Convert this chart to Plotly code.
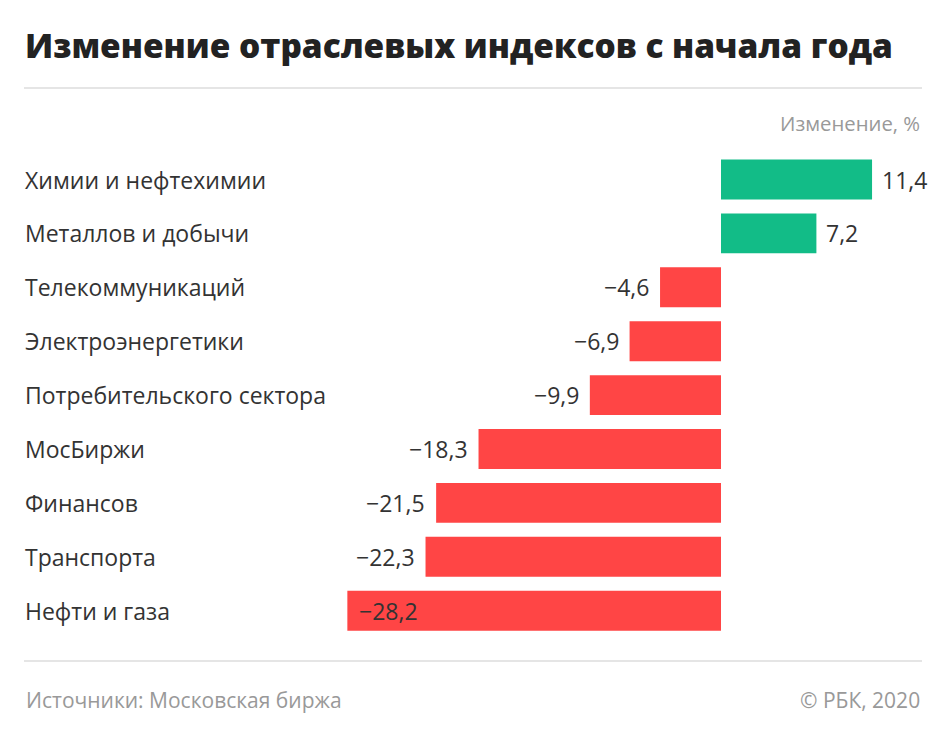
import plotly.graph_objects as go

categories = ["Химии и нефтехимии", "Металлов и добычи", "Телекоммуникаций",
              "Электроэнергетики", "Потребительского сектора", "МосБиржи",
              "Финансов", "Транспорта", "Нефти и газа"]
values = [11.4, 7.2, -4.6, -6.9, -9.9, -18.3, -21.5, -22.3, -28.2]

title = "Изменение отраслевых индексов с начала года"
unit_label = "Изменение, %"
source = "Источники: Московская биржа"
copyright_txt = "© РБК, 2020"

OFF = 8  # page body margin
W, H = 945 - 2 * OFF, 740 - 2 * OFF
GREEN = "#12bc87"
RED = "#ff4545"
DARK = "#333333"
GRAY = "#999999"
FONT = "Open Sans"
TFONT = "Open Sans"
LBL = 23

def fmt(v):
    s = f"{abs(v):.1f}".replace(".", ",")
    return ("\u2212" + s) if v < 0 else s

colors = [GREEN if v >= 0 else RED for v in values]

fig = go.Figure(go.Bar(
    y=categories, x=values, orientation="h",
    marker=dict(color=colors, line=dict(width=0)),
    width=0.74, hoverinfo="skip",
))

# pixel geometry (screen coordinates)
zero_px = 721 - OFF
scale = 13.25
first_c = 179.5 - OFF
step = 53.9

xr = [-zero_px / scale, (W - zero_px) / scale]
yr = [(H - first_c) / step, -first_c / step]

def px(x):
    return (x - OFF) / W

def py(y):
    return 1 - (y - OFF) / H

ann = []
for c in categories:
    ann.append(dict(x=px(23), xref="paper", y=c, yref="y", text=c,
                    xanchor="left", yanchor="middle", showarrow=False,
                    font=dict(family=FONT, size=LBL, color=DARK)))
for c, v in zip(categories, values):
    if v >= 0:
        a = dict(xanchor="left", xshift=8)
    elif v * scale < -300:
        a = dict(xanchor="left", xshift=10)
    else:
        a = dict(xanchor="right", xshift=-9)
    ann.append(dict(x=v, y=c, xref="x", yref="y", text=fmt(v), showarrow=False,
                    yanchor="middle", font=dict(family=FONT, size=LBL, color=DARK), **a))

ann += [
    dict(x=px(23), y=py(45), xref="paper", yref="paper", text=title,
         xanchor="left", yanchor="middle", showarrow=False,
         font=dict(family=TFONT, size=33.4, color="#222222", weight=800)),
    dict(x=px(922), y=py(123), xref="paper", yref="paper", text=unit_label,
         xanchor="right", yanchor="middle", showarrow=False,
         font=dict(family=FONT, size=20.3, color=GRAY)),
    dict(x=px(24), y=py(700), xref="paper", yref="paper", text=source,
         xanchor="left", yanchor="middle", showarrow=False,
         font=dict(family=FONT, size=21, color=GRAY)),
    dict(x=px(922), y=py(700), xref="paper", yref="paper", text=copyright_txt,
         xanchor="right", yanchor="middle", showarrow=False,
         font=dict(family=FONT, size=21, color=GRAY)),
]

shapes = [
    dict(type="line", xref="paper", yref="paper", x0=px(24), x1=px(922),
         y0=py(88), y1=py(88), line=dict(color="#dddddd", width=1.5)),
    dict(type="line", xref="paper", yref="paper", x0=px(24), x1=px(922),
         y0=py(661), y1=py(661), line=dict(color="#dddddd", width=1.5)),
]

fig.update_layout(
    width=W, height=H,
    margin=dict(l=0, r=0, t=0, b=0),
    paper_bgcolor="white", plot_bgcolor="white",
    showlegend=False,
    xaxis=dict(range=xr, visible=False, fixedrange=True),
    yaxis=dict(range=yr, visible=False, type="category", fixedrange=True),
    annotations=ann, shapes=shapes,
    font=dict(family=FONT),
)

fig.write_html("out.html", config=dict(displayModeBar=False))
